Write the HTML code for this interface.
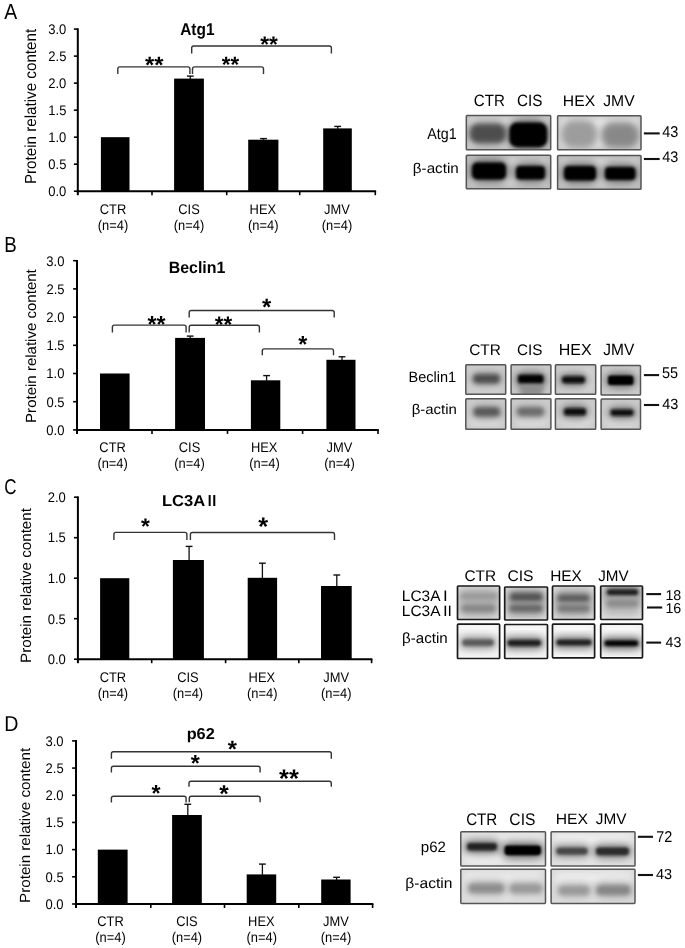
<!DOCTYPE html>
<html><head><meta charset="utf-8"><style>
html,body{margin:0;padding:0;background:#fff;}
body{width:685px;height:948px;overflow:hidden;}
svg{display:block;font-family:"Liberation Sans",sans-serif;text-rendering:geometricPrecision;-webkit-font-smoothing:antialiased;filter:blur(0.35px);}
</style></head><body>
<svg width="685" height="948" viewBox="0 0 685 948">
<defs>
<filter id="b05" x="-50%" y="-50%" width="200%" height="200%"><feGaussianBlur stdDeviation="0.5"/></filter>
<filter id="b1" x="-50%" y="-50%" width="200%" height="200%"><feGaussianBlur stdDeviation="1.0"/></filter>
<filter id="b15" x="-50%" y="-50%" width="200%" height="200%"><feGaussianBlur stdDeviation="1.5"/></filter>
<filter id="b2" x="-50%" y="-50%" width="200%" height="200%"><feGaussianBlur stdDeviation="2.0"/></filter>
<filter id="b25" x="-50%" y="-50%" width="200%" height="200%"><feGaussianBlur stdDeviation="2.5"/></filter>
<filter id="b3" x="-50%" y="-50%" width="200%" height="200%"><feGaussianBlur stdDeviation="3.0"/></filter>
<filter id="b4" x="-50%" y="-50%" width="200%" height="200%"><feGaussianBlur stdDeviation="4.0"/></filter>
<filter id="b5" x="-50%" y="-50%" width="200%" height="200%"><feGaussianBlur stdDeviation="5.0"/></filter>
<clipPath id="c1"><rect x="466.30" y="115.60" width="84.40" height="34.20"/></clipPath>
<clipPath id="c2"><rect x="557.60" y="115.80" width="83.40" height="34.00"/></clipPath>
<clipPath id="c3"><rect x="466.30" y="155.30" width="84.40" height="33.50"/></clipPath>
<clipPath id="c4"><rect x="557.60" y="155.50" width="83.40" height="33.80"/></clipPath>
<clipPath id="c5"><rect x="465.80" y="364.80" width="39.90" height="29.40"/></clipPath>
<clipPath id="c6"><rect x="511.10" y="364.80" width="39.80" height="29.40"/></clipPath>
<clipPath id="c7"><rect x="555.40" y="364.80" width="40.30" height="29.40"/></clipPath>
<clipPath id="c8"><rect x="601.10" y="365.40" width="39.40" height="29.60"/></clipPath>
<clipPath id="c9"><rect x="465.80" y="398.70" width="39.90" height="30.50"/></clipPath>
<clipPath id="c10"><rect x="511.10" y="398.70" width="39.80" height="30.50"/></clipPath>
<clipPath id="c11"><rect x="555.40" y="398.70" width="40.30" height="30.50"/></clipPath>
<clipPath id="c12"><rect x="601.10" y="399.10" width="39.40" height="30.10"/></clipPath>
<clipPath id="c13"><rect x="457.50" y="586.00" width="42.10" height="33.50"/></clipPath>
<clipPath id="c14"><rect x="504.70" y="587.00" width="42.80" height="33.00"/></clipPath>
<clipPath id="c15"><rect x="552.50" y="586.00" width="42.10" height="33.50"/></clipPath>
<clipPath id="c16"><rect x="600.70" y="586.00" width="41.80" height="33.50"/></clipPath>
<clipPath id="c17"><rect x="457.50" y="624.20" width="42.10" height="34.30"/></clipPath>
<clipPath id="c18"><rect x="504.70" y="624.50" width="42.80" height="34.00"/></clipPath>
<clipPath id="c19"><rect x="552.50" y="624.20" width="42.10" height="33.60"/></clipPath>
<clipPath id="c20"><rect x="600.70" y="624.20" width="41.80" height="33.60"/></clipPath>
<clipPath id="c21"><rect x="460.80" y="831.70" width="84.70" height="34.30"/></clipPath>
<clipPath id="c22"><rect x="551.10" y="831.70" width="83.90" height="34.30"/></clipPath>
<clipPath id="c23"><rect x="460.80" y="869.20" width="84.70" height="34.20"/></clipPath>
<clipPath id="c24"><rect x="551.10" y="869.20" width="83.90" height="34.20"/></clipPath>
</defs>
<rect width="685" height="948" fill="#fff"/>
<rect x="100.90" y="137.17" width="28.60" height="54.03" fill="#000" />
<rect x="174.10" y="78.60" width="29.80" height="112.60" fill="#000" />
<line x1="190.30" y1="79.10" x2="190.30" y2="76.10" stroke="#111" stroke-width="1.3"/>
<line x1="186.90" y1="76.10" x2="193.70" y2="76.10" stroke="#111" stroke-width="1.4"/>
<rect x="248.20" y="139.70" width="30.20" height="51.50" fill="#000" />
<line x1="263.50" y1="140.20" x2="263.50" y2="138.60" stroke="#111" stroke-width="1.3"/>
<line x1="260.10" y1="138.60" x2="266.90" y2="138.60" stroke="#111" stroke-width="1.4"/>
<rect x="323.20" y="128.40" width="28.60" height="62.80" fill="#000" />
<line x1="337.70" y1="128.90" x2="337.70" y2="126.40" stroke="#111" stroke-width="1.3"/>
<line x1="334.30" y1="126.40" x2="341.10" y2="126.40" stroke="#111" stroke-width="1.4"/>
<line x1="77.80" y1="28.30" x2="77.80" y2="195.20" stroke="#000" stroke-width="2.0"/>
<line x1="76.80" y1="191.20" x2="376.10" y2="191.20" stroke="#000" stroke-width="2.0"/>
<line x1="73.90" y1="191.20" x2="77.80" y2="191.20" stroke="#000" stroke-width="1.6"/>
<line x1="73.90" y1="164.18" x2="77.80" y2="164.18" stroke="#000" stroke-width="1.6"/>
<line x1="73.90" y1="137.17" x2="77.80" y2="137.17" stroke="#000" stroke-width="1.6"/>
<line x1="73.90" y1="110.15" x2="77.80" y2="110.15" stroke="#000" stroke-width="1.6"/>
<line x1="73.90" y1="83.13" x2="77.80" y2="83.13" stroke="#000" stroke-width="1.6"/>
<line x1="73.90" y1="56.12" x2="77.80" y2="56.12" stroke="#000" stroke-width="1.6"/>
<line x1="73.90" y1="29.10" x2="77.80" y2="29.10" stroke="#000" stroke-width="1.6"/>
<line x1="152.00" y1="191.20" x2="152.00" y2="195.20" stroke="#000" stroke-width="1.6"/>
<line x1="226.70" y1="191.20" x2="226.70" y2="195.20" stroke="#000" stroke-width="1.6"/>
<line x1="299.70" y1="191.20" x2="299.70" y2="195.20" stroke="#000" stroke-width="1.6"/>
<line x1="375.30" y1="191.20" x2="375.30" y2="195.20" stroke="#000" stroke-width="1.6"/>
<text transform="translate(48.26,196.03) scale(0.930,1)" font-size="14.00" fill="#000000">0.0</text>
<text transform="translate(48.32,169.01) scale(0.930,1)" font-size="14.00" fill="#000000">0.5</text>
<text transform="translate(48.26,142.00) scale(0.930,1)" font-size="14.00" fill="#000000">1.0</text>
<text transform="translate(48.32,114.91) scale(0.930,1)" font-size="14.00" fill="#000000">1.5</text>
<text transform="translate(48.26,87.96) scale(0.930,1)" font-size="14.00" fill="#000000">2.0</text>
<text transform="translate(48.32,60.95) scale(0.930,1)" font-size="14.00" fill="#000000">2.5</text>
<text transform="translate(48.26,33.93) scale(0.930,1)" font-size="14.00" fill="#000000">3.0</text>
<text transform="translate(99.73,214.20) scale(0.920,1)" font-size="14.00" fill="#000000">CTR</text>
<text transform="translate(97.80,229.50) scale(0.920,1)" font-size="14.00" fill="#000000">(n=4)</text>
<text transform="translate(178.25,214.20) scale(0.920,1)" font-size="14.00" fill="#000000">CIS</text>
<text transform="translate(173.80,229.50) scale(0.920,1)" font-size="14.00" fill="#000000">(n=4)</text>
<text transform="translate(249.58,214.20) scale(0.920,1)" font-size="14.00" fill="#000000">HEX</text>
<text transform="translate(248.00,229.50) scale(0.920,1)" font-size="14.00" fill="#000000">(n=4)</text>
<text transform="translate(324.06,214.20) scale(0.920,1)" font-size="14.00" fill="#000000">JMV</text>
<text transform="translate(321.80,229.50) scale(0.920,1)" font-size="14.00" fill="#000000">(n=4)</text>
<rect x="100.00" y="373.50" width="29.60" height="56.40" fill="#000" />
<rect x="175.10" y="337.90" width="29.90" height="92.00" fill="#000" />
<line x1="190.20" y1="338.40" x2="190.20" y2="336.10" stroke="#111" stroke-width="1.3"/>
<line x1="186.80" y1="336.10" x2="193.60" y2="336.10" stroke="#111" stroke-width="1.4"/>
<rect x="250.90" y="380.30" width="29.40" height="49.60" fill="#000" />
<line x1="266.60" y1="380.80" x2="266.60" y2="375.60" stroke="#111" stroke-width="1.3"/>
<line x1="263.20" y1="375.60" x2="270.00" y2="375.60" stroke="#111" stroke-width="1.4"/>
<rect x="326.40" y="359.80" width="29.10" height="70.10" fill="#000" />
<line x1="342.00" y1="360.30" x2="342.00" y2="356.80" stroke="#111" stroke-width="1.3"/>
<line x1="338.60" y1="356.80" x2="345.40" y2="356.80" stroke="#111" stroke-width="1.4"/>
<line x1="77.00" y1="259.90" x2="77.00" y2="433.90" stroke="#000" stroke-width="2.0"/>
<line x1="76.00" y1="429.90" x2="378.80" y2="429.90" stroke="#000" stroke-width="2.0"/>
<line x1="73.10" y1="429.90" x2="77.00" y2="429.90" stroke="#000" stroke-width="1.6"/>
<line x1="73.10" y1="401.70" x2="77.00" y2="401.70" stroke="#000" stroke-width="1.6"/>
<line x1="73.10" y1="373.50" x2="77.00" y2="373.50" stroke="#000" stroke-width="1.6"/>
<line x1="73.10" y1="345.30" x2="77.00" y2="345.30" stroke="#000" stroke-width="1.6"/>
<line x1="73.10" y1="317.10" x2="77.00" y2="317.10" stroke="#000" stroke-width="1.6"/>
<line x1="73.10" y1="288.90" x2="77.00" y2="288.90" stroke="#000" stroke-width="1.6"/>
<line x1="73.10" y1="260.70" x2="77.00" y2="260.70" stroke="#000" stroke-width="1.6"/>
<line x1="152.00" y1="429.90" x2="152.00" y2="433.90" stroke="#000" stroke-width="1.6"/>
<line x1="227.50" y1="429.90" x2="227.50" y2="433.90" stroke="#000" stroke-width="1.6"/>
<line x1="302.60" y1="429.90" x2="302.60" y2="433.90" stroke="#000" stroke-width="1.6"/>
<line x1="378.00" y1="429.90" x2="378.00" y2="433.90" stroke="#000" stroke-width="1.6"/>
<text transform="translate(46.36,434.73) scale(0.930,1)" font-size="14.00" fill="#000000">0.0</text>
<text transform="translate(46.42,406.53) scale(0.930,1)" font-size="14.00" fill="#000000">0.5</text>
<text transform="translate(46.36,378.33) scale(0.930,1)" font-size="14.00" fill="#000000">1.0</text>
<text transform="translate(46.42,350.06) scale(0.930,1)" font-size="14.00" fill="#000000">1.5</text>
<text transform="translate(46.36,321.93) scale(0.930,1)" font-size="14.00" fill="#000000">2.0</text>
<text transform="translate(46.42,293.73) scale(0.930,1)" font-size="14.00" fill="#000000">2.5</text>
<text transform="translate(46.36,265.53) scale(0.930,1)" font-size="14.00" fill="#000000">3.0</text>
<text transform="translate(99.33,451.60) scale(0.920,1)" font-size="14.00" fill="#000000">CTR</text>
<text transform="translate(97.40,467.60) scale(0.920,1)" font-size="14.00" fill="#000000">(n=4)</text>
<text transform="translate(178.75,451.60) scale(0.920,1)" font-size="14.00" fill="#000000">CIS</text>
<text transform="translate(174.30,467.60) scale(0.920,1)" font-size="14.00" fill="#000000">(n=4)</text>
<text transform="translate(250.88,451.60) scale(0.920,1)" font-size="14.00" fill="#000000">HEX</text>
<text transform="translate(249.30,467.60) scale(0.920,1)" font-size="14.00" fill="#000000">(n=4)</text>
<text transform="translate(326.56,451.60) scale(0.920,1)" font-size="14.00" fill="#000000">JMV</text>
<text transform="translate(324.30,467.60) scale(0.920,1)" font-size="14.00" fill="#000000">(n=4)</text>
<rect x="100.10" y="578.20" width="29.20" height="81.00" fill="#000" />
<rect x="172.90" y="560.00" width="31.00" height="99.20" fill="#000" />
<line x1="189.10" y1="560.50" x2="189.10" y2="546.40" stroke="#111" stroke-width="1.3"/>
<line x1="185.70" y1="546.40" x2="192.50" y2="546.40" stroke="#111" stroke-width="1.4"/>
<rect x="247.70" y="577.80" width="29.40" height="81.40" fill="#000" />
<line x1="262.40" y1="578.30" x2="262.40" y2="563.20" stroke="#111" stroke-width="1.3"/>
<line x1="259.00" y1="563.20" x2="265.80" y2="563.20" stroke="#111" stroke-width="1.4"/>
<rect x="321.00" y="586.00" width="30.70" height="73.20" fill="#000" />
<line x1="336.80" y1="586.50" x2="336.80" y2="575.00" stroke="#111" stroke-width="1.3"/>
<line x1="333.40" y1="575.00" x2="340.20" y2="575.00" stroke="#111" stroke-width="1.4"/>
<line x1="77.90" y1="496.40" x2="77.90" y2="663.20" stroke="#000" stroke-width="2.0"/>
<line x1="76.90" y1="659.20" x2="372.40" y2="659.20" stroke="#000" stroke-width="2.0"/>
<line x1="74.00" y1="659.20" x2="77.90" y2="659.20" stroke="#000" stroke-width="1.6"/>
<line x1="74.00" y1="618.70" x2="77.90" y2="618.70" stroke="#000" stroke-width="1.6"/>
<line x1="74.00" y1="578.20" x2="77.90" y2="578.20" stroke="#000" stroke-width="1.6"/>
<line x1="74.00" y1="537.70" x2="77.90" y2="537.70" stroke="#000" stroke-width="1.6"/>
<line x1="74.00" y1="497.20" x2="77.90" y2="497.20" stroke="#000" stroke-width="1.6"/>
<line x1="151.70" y1="659.20" x2="151.70" y2="663.20" stroke="#000" stroke-width="1.6"/>
<line x1="225.60" y1="659.20" x2="225.60" y2="663.20" stroke="#000" stroke-width="1.6"/>
<line x1="298.80" y1="659.20" x2="298.80" y2="663.20" stroke="#000" stroke-width="1.6"/>
<line x1="371.60" y1="659.20" x2="371.60" y2="663.20" stroke="#000" stroke-width="1.6"/>
<text transform="translate(47.66,664.03) scale(0.930,1)" font-size="14.00" fill="#000000">0.0</text>
<text transform="translate(47.72,623.53) scale(0.930,1)" font-size="14.00" fill="#000000">0.5</text>
<text transform="translate(47.66,583.03) scale(0.930,1)" font-size="14.00" fill="#000000">1.0</text>
<text transform="translate(47.72,542.46) scale(0.930,1)" font-size="14.00" fill="#000000">1.5</text>
<text transform="translate(47.66,502.03) scale(0.930,1)" font-size="14.00" fill="#000000">2.0</text>
<text transform="translate(99.63,681.60) scale(0.920,1)" font-size="14.00" fill="#000000">CTR</text>
<text transform="translate(97.70,697.60) scale(0.920,1)" font-size="14.00" fill="#000000">(n=4)</text>
<text transform="translate(177.15,681.60) scale(0.920,1)" font-size="14.00" fill="#000000">CIS</text>
<text transform="translate(172.70,697.60) scale(0.920,1)" font-size="14.00" fill="#000000">(n=4)</text>
<text transform="translate(248.58,681.60) scale(0.920,1)" font-size="14.00" fill="#000000">HEX</text>
<text transform="translate(247.00,697.60) scale(0.920,1)" font-size="14.00" fill="#000000">(n=4)</text>
<text transform="translate(323.26,681.60) scale(0.920,1)" font-size="14.00" fill="#000000">JMV</text>
<text transform="translate(321.00,697.60) scale(0.920,1)" font-size="14.00" fill="#000000">(n=4)</text>
<rect x="97.80" y="849.63" width="29.80" height="54.37" fill="#000" />
<rect x="172.10" y="815.00" width="29.70" height="89.00" fill="#000" />
<line x1="187.80" y1="815.50" x2="187.80" y2="804.30" stroke="#111" stroke-width="1.3"/>
<line x1="184.40" y1="804.30" x2="191.20" y2="804.30" stroke="#111" stroke-width="1.4"/>
<rect x="246.70" y="874.40" width="29.50" height="29.60" fill="#000" />
<line x1="262.40" y1="874.90" x2="262.40" y2="864.10" stroke="#111" stroke-width="1.3"/>
<line x1="259.00" y1="864.10" x2="265.80" y2="864.10" stroke="#111" stroke-width="1.4"/>
<rect x="321.20" y="879.50" width="29.40" height="24.50" fill="#000" />
<line x1="336.60" y1="880.00" x2="336.60" y2="877.30" stroke="#111" stroke-width="1.3"/>
<line x1="333.20" y1="877.30" x2="340.00" y2="877.30" stroke="#111" stroke-width="1.4"/>
<line x1="76.00" y1="740.10" x2="76.00" y2="908.00" stroke="#000" stroke-width="2.0"/>
<line x1="75.00" y1="904.00" x2="373.40" y2="904.00" stroke="#000" stroke-width="2.0"/>
<line x1="72.10" y1="904.00" x2="76.00" y2="904.00" stroke="#000" stroke-width="1.6"/>
<line x1="72.10" y1="876.82" x2="76.00" y2="876.82" stroke="#000" stroke-width="1.6"/>
<line x1="72.10" y1="849.63" x2="76.00" y2="849.63" stroke="#000" stroke-width="1.6"/>
<line x1="72.10" y1="822.45" x2="76.00" y2="822.45" stroke="#000" stroke-width="1.6"/>
<line x1="72.10" y1="795.27" x2="76.00" y2="795.27" stroke="#000" stroke-width="1.6"/>
<line x1="72.10" y1="768.08" x2="76.00" y2="768.08" stroke="#000" stroke-width="1.6"/>
<line x1="72.10" y1="740.90" x2="76.00" y2="740.90" stroke="#000" stroke-width="1.6"/>
<line x1="150.80" y1="904.00" x2="150.80" y2="908.00" stroke="#000" stroke-width="1.6"/>
<line x1="224.50" y1="904.00" x2="224.50" y2="908.00" stroke="#000" stroke-width="1.6"/>
<line x1="298.80" y1="904.00" x2="298.80" y2="908.00" stroke="#000" stroke-width="1.6"/>
<line x1="372.60" y1="904.00" x2="372.60" y2="908.00" stroke="#000" stroke-width="1.6"/>
<text transform="translate(45.46,908.83) scale(0.930,1)" font-size="14.00" fill="#000000">0.0</text>
<text transform="translate(45.52,881.65) scale(0.930,1)" font-size="14.00" fill="#000000">0.5</text>
<text transform="translate(45.46,854.46) scale(0.930,1)" font-size="14.00" fill="#000000">1.0</text>
<text transform="translate(45.52,827.21) scale(0.930,1)" font-size="14.00" fill="#000000">1.5</text>
<text transform="translate(45.46,800.10) scale(0.930,1)" font-size="14.00" fill="#000000">2.0</text>
<text transform="translate(45.52,772.91) scale(0.930,1)" font-size="14.00" fill="#000000">2.5</text>
<text transform="translate(45.46,745.73) scale(0.930,1)" font-size="14.00" fill="#000000">3.0</text>
<text transform="translate(97.23,925.60) scale(0.920,1)" font-size="14.00" fill="#000000">CTR</text>
<text transform="translate(95.30,941.60) scale(0.920,1)" font-size="14.00" fill="#000000">(n=4)</text>
<text transform="translate(176.15,925.60) scale(0.920,1)" font-size="14.00" fill="#000000">CIS</text>
<text transform="translate(171.70,941.60) scale(0.920,1)" font-size="14.00" fill="#000000">(n=4)</text>
<text transform="translate(248.08,925.60) scale(0.920,1)" font-size="14.00" fill="#000000">HEX</text>
<text transform="translate(246.50,941.60) scale(0.920,1)" font-size="14.00" fill="#000000">(n=4)</text>
<text transform="translate(323.06,925.60) scale(0.920,1)" font-size="14.00" fill="#000000">JMV</text>
<text transform="translate(320.80,941.60) scale(0.920,1)" font-size="14.00" fill="#000000">(n=4)</text>
<text transform="translate(4.30,18.50) scale(0.892,1)" font-size="21.74" fill="#000000">A</text>
<text transform="translate(4.30,251.90) scale(0.854,1)" font-size="21.88" fill="#000000">B</text>
<text transform="translate(4.15,494.39) scale(0.794,1)" font-size="21.41" fill="#000000">C</text>
<text transform="translate(4.23,731.00) scale(0.911,1)" font-size="21.59" fill="#000000">D</text>
<text transform="translate(35.54,184.12) rotate(-90) scale(0.947,1)" font-size="16.05" fill="#000000">Protein relative content</text>
<text transform="translate(35.95,422.90) rotate(-90) scale(1.023,1)" font-size="14.69" fill="#000000">Protein relative content</text>
<text transform="translate(30.85,662.91) rotate(-90) scale(1.011,1)" font-size="14.97" fill="#000000">Protein relative content</text>
<text transform="translate(29.95,902.91) rotate(-90) scale(1.032,1)" font-size="14.69" fill="#000000">Protein relative content</text>
<text transform="translate(180.21,35.20) scale(0.903,1)" font-size="17.10" font-weight="bold" fill="#000000">Atg1</text>
<text transform="translate(168.66,272.64) scale(0.971,1)" font-size="16.46" font-weight="bold" fill="#000000">Beclin1</text>
<text transform="translate(161.92,506.44) scale(1.052,1)" font-size="15.77" font-weight="bold" fill="#000000">LC3A</text>
<text transform="translate(207.80,506.40) scale(0.865,1)" font-size="15.94" font-weight="bold" fill="#000000">I</text>
<text transform="translate(212.16,506.40) scale(0.908,1)" font-size="15.94" font-weight="bold" fill="#000000">I</text>
<text transform="translate(186.64,738.60) scale(1.027,1)" font-size="15.86" font-weight="bold" fill="#000000">p62</text>
<path d="M117.80,74.00 L117.80,68.90 Q117.80,66.90 119.80,66.90 L187.90,66.90 Q189.90,66.90 189.90,68.90 L189.90,74.00" fill="none" stroke="#333333" stroke-width="1.4"/>
<text transform="translate(145.12,72.61) scale(1.000,1)" font-size="23.78" font-weight="bold" fill="#000000">**</text>
<path d="M192.50,74.00 L192.50,68.90 Q192.50,66.90 194.50,66.90 L261.50,66.90 Q263.50,66.90 263.50,68.90 L263.50,74.00" fill="none" stroke="#333333" stroke-width="1.4"/>
<text transform="translate(221.86,72.29) scale(1.000,1)" font-size="22.16" font-weight="bold" fill="#000000">**</text>
<path d="M191.70,53.50 L191.70,48.00 Q191.70,46.00 193.70,46.00 L329.40,46.00 Q331.40,46.00 331.40,48.00 L331.40,53.50" fill="none" stroke="#333333" stroke-width="1.4"/>
<text transform="translate(260.15,52.26) scale(1.000,1)" font-size="22.70" font-weight="bold" fill="#000000">**</text>
<path d="M112.40,332.40 L112.40,327.10 Q112.40,325.10 114.40,325.10 L184.10,325.10 Q186.10,325.10 186.10,327.10 L186.10,332.40" fill="none" stroke="#333333" stroke-width="1.4"/>
<text transform="translate(147.54,332.44) scale(1.000,1)" font-size="23.24" font-weight="bold" fill="#000000">**</text>
<path d="M189.20,332.50 L189.20,327.20 Q189.20,325.20 191.20,325.20 L257.40,325.20 Q259.40,325.20 259.40,327.20 L259.40,332.50" fill="none" stroke="#333333" stroke-width="1.4"/>
<text transform="translate(214.75,332.38) scale(1.000,1)" font-size="22.43" font-weight="bold" fill="#000000">**</text>
<path d="M189.20,317.60 L189.20,312.50 Q189.20,310.50 191.20,310.50 L332.20,310.50 Q334.20,310.50 334.20,312.50 L334.20,317.60" fill="none" stroke="#333333" stroke-width="1.4"/>
<text transform="translate(261.96,314.71) scale(1.000,1)" font-size="23.78" font-weight="bold" fill="#000000">*</text>
<path d="M262.30,355.30 L262.30,350.90 Q262.30,348.90 264.30,348.90 L331.50,348.90 Q333.50,348.90 333.50,350.90 L333.50,355.30" fill="none" stroke="#333333" stroke-width="1.4"/>
<text transform="translate(298.22,351.64) scale(1.000,1)" font-size="23.24" font-weight="bold" fill="#000000">*</text>
<path d="M113.90,540.00 L113.90,534.40 Q113.90,532.40 115.90,532.40 L184.90,532.40 Q186.90,532.40 186.90,534.40 L186.90,540.00" fill="none" stroke="#333333" stroke-width="1.4"/>
<text transform="translate(141.07,534.46) scale(1.000,1)" font-size="22.70" font-weight="bold" fill="#000000">*</text>
<path d="M190.40,540.00 L190.40,534.50 Q190.40,532.50 192.40,532.50 L332.50,532.50 Q334.50,532.50 334.50,534.50 L334.50,540.00" fill="none" stroke="#333333" stroke-width="1.4"/>
<text transform="translate(258.25,535.33) scale(1.000,1)" font-size="25.41" font-weight="bold" fill="#000000">*</text>
<path d="M111.40,758.70 L111.40,753.70 Q111.40,751.70 113.40,751.70 L329.30,751.70 Q331.30,751.70 331.30,753.70 L331.30,758.70" fill="none" stroke="#333333" stroke-width="1.4"/>
<text transform="translate(227.71,757.32) scale(1.000,1)" font-size="23.51" font-weight="bold" fill="#000000">*</text>
<path d="M111.40,772.60 L111.40,768.30 Q111.40,766.30 113.40,766.30 L258.10,766.30 Q260.10,766.30 260.10,768.30 L260.10,772.60" fill="none" stroke="#333333" stroke-width="1.4"/>
<text transform="translate(190.77,770.54) scale(1.000,1)" font-size="23.24" font-weight="bold" fill="#000000">*</text>
<path d="M189.00,786.70 L189.00,783.30 Q189.00,781.30 191.00,781.30 L329.30,781.30 Q331.30,781.30 331.30,783.30 L331.30,786.70" fill="none" stroke="#333333" stroke-width="1.4"/>
<text transform="translate(279.09,787.13) scale(1.000,1)" font-size="25.41" font-weight="bold" fill="#000000">**</text>
<path d="M111.40,802.50 L111.40,798.20 Q111.40,796.20 113.40,796.20 L184.10,796.20 Q186.10,796.20 186.10,798.20 L186.10,802.50" fill="none" stroke="#333333" stroke-width="1.4"/>
<text transform="translate(151.47,801.24) scale(1.000,1)" font-size="23.24" font-weight="bold" fill="#000000">*</text>
<path d="M189.30,802.30 L189.30,798.20 Q189.30,796.20 191.30,796.20 L258.10,796.20 Q260.10,796.20 260.10,798.20 L260.10,802.30" fill="none" stroke="#333333" stroke-width="1.4"/>
<text transform="translate(219.16,801.58) scale(1.000,1)" font-size="24.32" font-weight="bold" fill="#000000">*</text>
<text transform="translate(473.84,106.44) scale(0.927,1)" font-size="16.34" fill="#000000">CTR</text>
<text transform="translate(517.04,106.44) scale(0.932,1)" font-size="16.34" fill="#000000">CIS</text>
<text transform="translate(562.84,106.20) scale(1.032,1)" font-size="15.22" fill="#000000">HEX</text>
<text transform="translate(603.26,106.44) scale(1.009,1)" font-size="15.57" fill="#000000">JMV</text>
<text transform="translate(427.20,138.60) scale(0.904,1)" font-size="15.80" fill="#000000">Atg1</text>
<text transform="translate(412.84,172.60) scale(1.069,1)" font-size="14.21" fill="#000000">β-actin</text>
<g clip-path="url(#c1)">
<rect x="466.30" y="115.60" width="84.40" height="34.20" fill="#c0c0c0"/>
<rect x="469.30" y="118.60" width="78.40" height="28.20" fill="#f0f0f0" filter="url(#b3)"/>
<rect x="467.00" y="121.00" width="41.50" height="25.00" rx="12.50" fill="#8b8b8b" filter="url(#b4)"/>
<rect x="506.00" y="119.00" width="44.50" height="31.50" rx="15.75" fill="#646464" filter="url(#b4)"/>
<rect x="470.50" y="124.50" width="34.50" height="18.00" rx="7.20" ry="7.20" fill="#4e4e4e" filter="url(#b25)"/>
<rect x="509.50" y="122.50" width="37.50" height="24.50" rx="7.35" ry="7.35" fill="#000" filter="url(#b15)"/>
</g>
<rect x="466.30" y="115.60" width="84.40" height="34.20" rx="0.8" fill="none" stroke="#555555" stroke-width="1.5"/>
<g clip-path="url(#c2)">
<rect x="557.60" y="115.80" width="83.40" height="34.00" fill="#c8c8c8"/>
<rect x="560.60" y="118.80" width="77.40" height="28.00" fill="#f0f0f0" filter="url(#b3)"/>
<rect x="560.00" y="119.00" width="38.50" height="30.50" rx="15.25" fill="#b2b2b2" filter="url(#b4)"/>
<rect x="600.00" y="121.00" width="40.50" height="28.50" rx="14.25" fill="#a8a8a8" filter="url(#b4)"/>
<rect x="563.50" y="122.50" width="31.50" height="23.50" rx="9.40" ry="9.40" fill="#9c9c9c" filter="url(#b3)"/>
<rect x="603.50" y="124.50" width="33.50" height="21.50" rx="8.60" ry="8.60" fill="#888888" filter="url(#b3)"/>
</g>
<rect x="557.60" y="115.80" width="83.40" height="34.00" rx="0.8" fill="none" stroke="#555555" stroke-width="1.5"/>
<g clip-path="url(#c3)">
<rect x="466.30" y="155.30" width="84.40" height="33.50" fill="#b8b8b8"/>
<rect x="469.30" y="158.30" width="78.40" height="27.50" fill="#e0e0e0" filter="url(#b3)"/>
<rect x="468.50" y="159.00" width="41.00" height="24.00" rx="12.00" fill="#646464" filter="url(#b4)"/>
<rect x="512.50" y="162.50" width="36.00" height="20.50" rx="10.25" fill="#646464" filter="url(#b4)"/>
<rect x="472.00" y="162.50" width="34.00" height="17.00" rx="5.10" ry="5.10" fill="#000" filter="url(#b15)"/>
<rect x="516.00" y="166.00" width="29.00" height="13.50" rx="4.05" ry="4.05" fill="#000" filter="url(#b15)"/>
</g>
<rect x="466.30" y="155.30" width="84.40" height="33.50" rx="0.8" fill="none" stroke="#555555" stroke-width="1.5"/>
<g clip-path="url(#c4)">
<rect x="557.60" y="155.50" width="83.40" height="33.80" fill="#b8b8b8"/>
<rect x="560.60" y="158.50" width="77.40" height="27.80" fill="#e0e0e0" filter="url(#b3)"/>
<rect x="560.50" y="162.50" width="39.00" height="21.50" rx="10.75" fill="#646464" filter="url(#b4)"/>
<rect x="601.50" y="163.50" width="37.50" height="20.00" rx="10.00" fill="#646464" filter="url(#b4)"/>
<rect x="564.00" y="166.00" width="32.00" height="14.50" rx="4.35" ry="4.35" fill="#000" filter="url(#b15)"/>
<rect x="605.00" y="167.00" width="30.50" height="13.00" rx="3.90" ry="3.90" fill="#000" filter="url(#b15)"/>
</g>
<rect x="557.60" y="155.50" width="83.40" height="33.80" rx="0.8" fill="none" stroke="#555555" stroke-width="1.5"/>
<line x1="643.90" y1="133.40" x2="659.70" y2="133.40" stroke="#111" stroke-width="2.1"/>
<text transform="translate(662.31,137.44) scale(0.926,1)" font-size="15.63" fill="#000000">43</text>
<line x1="643.90" y1="159.00" x2="659.70" y2="159.00" stroke="#111" stroke-width="2.1"/>
<text transform="translate(662.31,162.25) scale(0.943,1)" font-size="15.35" fill="#000000">43</text>
<text transform="translate(469.13,355.45) scale(1.004,1)" font-size="15.35" fill="#000000">CTR</text>
<text transform="translate(517.04,355.45) scale(0.992,1)" font-size="15.35" fill="#000000">CIS</text>
<text transform="translate(558.72,355.20) scale(1.004,1)" font-size="15.94" fill="#000000">HEX</text>
<text transform="translate(603.27,355.44) scale(0.952,1)" font-size="16.29" fill="#000000">JMV</text>
<text transform="translate(408.54,382.25) scale(0.970,1)" font-size="14.97" fill="#000000">Beclin1</text>
<text transform="translate(411.65,414.00) scale(1.064,1)" font-size="14.07" fill="#000000">β-actin</text>
<g clip-path="url(#c5)">
<rect x="465.80" y="364.80" width="39.90" height="29.40" fill="#c6c6c6"/>
<rect x="469.80" y="368.80" width="31.90" height="21.40" fill="#ededed" filter="url(#b4)"/>
<rect x="470.00" y="371.00" width="33.00" height="15.50" rx="7.75" fill="#8b8b8b" filter="url(#b4)"/>
<rect x="473.50" y="374.50" width="26.00" height="8.50" rx="3.40" ry="3.40" fill="#4e4e4e" filter="url(#b2)"/>
</g>
<rect x="465.80" y="364.80" width="39.90" height="29.40" rx="0.8" fill="none" stroke="#555555" stroke-width="1.5"/>
<g clip-path="url(#c6)">
<rect x="511.10" y="364.80" width="39.80" height="29.40" fill="#c6c6c6"/>
<rect x="515.10" y="368.80" width="31.80" height="21.40" fill="#ededed" filter="url(#b4)"/>
<rect x="517.50" y="376.50" width="28.00" height="23.00" rx="11.50" fill="#ababab" filter="url(#b4)"/>
<rect x="514.50" y="371.30" width="32.50" height="15.40" rx="7.70" fill="#646464" filter="url(#b4)"/>
<rect x="521.00" y="380.00" width="21.00" height="16.00" rx="2.40" ry="2.40" fill="#8e8e8e" filter="url(#b2)"/>
<rect x="518.00" y="374.80" width="25.50" height="8.40" rx="2.52" ry="2.52" fill="#000" filter="url(#b15)"/>
</g>
<rect x="511.10" y="364.80" width="39.80" height="29.40" rx="0.8" fill="none" stroke="#555555" stroke-width="1.5"/>
<g clip-path="url(#c7)">
<rect x="555.40" y="364.80" width="40.30" height="29.40" fill="#c6c6c6"/>
<rect x="559.40" y="368.80" width="32.30" height="21.40" fill="#ededed" filter="url(#b4)"/>
<rect x="558.50" y="372.80" width="30.00" height="14.00" rx="7.00" fill="#6c6c6c" filter="url(#b4)"/>
<rect x="562.00" y="376.30" width="23.00" height="7.00" rx="2.80" ry="2.80" fill="#111" filter="url(#b15)"/>
</g>
<rect x="555.40" y="364.80" width="40.30" height="29.40" rx="0.8" fill="none" stroke="#555555" stroke-width="1.5"/>
<g clip-path="url(#c8)">
<rect x="601.10" y="365.40" width="39.40" height="29.60" fill="#c6c6c6"/>
<rect x="605.10" y="369.40" width="31.40" height="21.60" fill="#ededed" filter="url(#b4)"/>
<rect x="604.50" y="372.10" width="32.50" height="16.50" rx="8.25" fill="#646464" filter="url(#b4)"/>
<rect x="608.00" y="375.60" width="25.50" height="9.50" rx="2.85" ry="2.85" fill="#000" filter="url(#b1)"/>
</g>
<rect x="601.10" y="365.40" width="39.40" height="29.60" rx="0.8" fill="none" stroke="#555555" stroke-width="1.5"/>
<g clip-path="url(#c9)">
<rect x="465.80" y="398.70" width="39.90" height="30.50" fill="#c6c6c6"/>
<rect x="469.80" y="402.70" width="31.90" height="22.50" fill="#ededed" filter="url(#b4)"/>
<rect x="470.50" y="404.30" width="32.50" height="15.20" rx="7.60" fill="#909090" filter="url(#b4)"/>
<rect x="474.00" y="407.80" width="25.50" height="8.20" rx="3.28" ry="3.28" fill="#585858" filter="url(#b2)"/>
</g>
<rect x="465.80" y="398.70" width="39.90" height="30.50" rx="0.8" fill="none" stroke="#555555" stroke-width="1.5"/>
<g clip-path="url(#c10)">
<rect x="511.10" y="398.70" width="39.80" height="30.50" fill="#c6c6c6"/>
<rect x="515.10" y="402.70" width="31.80" height="22.50" fill="#ededed" filter="url(#b4)"/>
<rect x="514.00" y="404.30" width="33.00" height="14.80" rx="7.40" fill="#999999" filter="url(#b4)"/>
<rect x="517.50" y="407.80" width="26.00" height="7.80" rx="3.12" ry="3.12" fill="#6a6a6a" filter="url(#b2)"/>
</g>
<rect x="511.10" y="398.70" width="39.80" height="30.50" rx="0.8" fill="none" stroke="#555555" stroke-width="1.5"/>
<g clip-path="url(#c11)">
<rect x="555.40" y="398.70" width="40.30" height="30.50" fill="#c6c6c6"/>
<rect x="559.40" y="402.70" width="32.30" height="22.50" fill="#ededed" filter="url(#b4)"/>
<rect x="560.50" y="404.70" width="29.00" height="14.10" rx="7.05" fill="#696969" filter="url(#b4)"/>
<rect x="564.00" y="408.20" width="22.00" height="7.10" rx="2.84" ry="2.84" fill="#0a0a0a" filter="url(#b15)"/>
</g>
<rect x="555.40" y="398.70" width="40.30" height="30.50" rx="0.8" fill="none" stroke="#555555" stroke-width="1.5"/>
<g clip-path="url(#c12)">
<rect x="601.10" y="399.10" width="39.40" height="30.10" fill="#c6c6c6"/>
<rect x="605.10" y="403.10" width="31.40" height="22.10" fill="#ededed" filter="url(#b4)"/>
<rect x="607.00" y="406.10" width="30.00" height="13.20" rx="6.60" fill="#6c6c6c" filter="url(#b4)"/>
<rect x="610.50" y="409.60" width="23.00" height="6.20" rx="2.48" ry="2.48" fill="#111" filter="url(#b15)"/>
</g>
<rect x="601.10" y="399.10" width="39.40" height="30.10" rx="0.8" fill="none" stroke="#555555" stroke-width="1.5"/>
<line x1="643.90" y1="375.10" x2="659.10" y2="375.10" stroke="#111" stroke-width="2.1"/>
<text transform="translate(662.02,377.94) scale(0.929,1)" font-size="15.57" fill="#000000">55</text>
<line x1="643.90" y1="405.00" x2="659.10" y2="405.00" stroke="#111" stroke-width="2.1"/>
<text transform="translate(662.31,408.75) scale(0.979,1)" font-size="14.79" fill="#000000">43</text>
<text transform="translate(464.43,581.15) scale(1.007,1)" font-size="15.35" fill="#000000">CTR</text>
<text transform="translate(507.42,581.15) scale(1.021,1)" font-size="15.35" fill="#000000">CIS</text>
<text transform="translate(550.17,581.30) scale(1.012,1)" font-size="15.22" fill="#000000">HEX</text>
<text transform="translate(598.17,581.35) scale(0.995,1)" font-size="15.29" fill="#000000">JMV</text>
<text transform="translate(401.86,601.05) scale(1.016,1)" font-size="15.21" fill="#000000">LC3A</text>
<text transform="translate(443.08,601.00) scale(1.107,1)" font-size="15.22" fill="#000000">I</text>
<text transform="translate(401.86,616.45) scale(1.025,1)" font-size="15.07" fill="#000000">LC3A</text>
<text transform="translate(443.08,616.40) scale(1.117,1)" font-size="15.07" fill="#000000">I</text>
<text transform="translate(447.48,616.40) scale(1.048,1)" font-size="15.07" fill="#000000">I</text>
<text transform="translate(402.04,643.40) scale(1.024,1)" font-size="14.76" fill="#000000">β-actin</text>
<g clip-path="url(#c13)">
<rect x="457.50" y="586.00" width="42.10" height="33.50" fill="#dedede"/>
<rect x="461.50" y="590.00" width="34.10" height="25.50" fill="#c2c2c2" filter="url(#b4)"/>
<rect x="457.50" y="589.50" width="43.00" height="13.50" rx="6.75" fill="#b1b1b1" filter="url(#b4)"/>
<rect x="458.50" y="601.50" width="40.00" height="13.50" rx="6.75" fill="#a6a6a6" filter="url(#b4)"/>
<rect x="461.00" y="593.00" width="36.00" height="6.50" rx="2.60" ry="2.60" fill="#9a9a9a" filter="url(#b2)"/>
<rect x="462.00" y="605.00" width="33.00" height="6.50" rx="2.60" ry="2.60" fill="#858585" filter="url(#b2)"/>
</g>
<rect x="457.50" y="586.00" width="42.10" height="33.50" rx="0.8" fill="none" stroke="#1a1a1a" stroke-width="1.7"/>
<g clip-path="url(#c14)">
<rect x="504.70" y="587.00" width="42.80" height="33.00" fill="#dedede"/>
<rect x="508.70" y="591.00" width="34.80" height="25.00" fill="#c2c2c2" filter="url(#b4)"/>
<rect x="507.00" y="590.00" width="38.50" height="14.00" rx="7.00" fill="#8c8c8c" filter="url(#b4)"/>
<rect x="506.50" y="601.50" width="39.00" height="13.50" rx="6.75" fill="#969696" filter="url(#b4)"/>
<rect x="510.50" y="593.50" width="31.50" height="7.00" rx="2.80" ry="2.80" fill="#505050" filter="url(#b2)"/>
<rect x="510.00" y="605.00" width="32.00" height="6.50" rx="2.60" ry="2.60" fill="#656565" filter="url(#b2)"/>
</g>
<rect x="504.70" y="587.00" width="42.80" height="33.00" rx="0.8" fill="none" stroke="#1a1a1a" stroke-width="1.7"/>
<g clip-path="url(#c15)">
<rect x="552.50" y="586.00" width="42.10" height="33.50" fill="#dedede"/>
<rect x="556.50" y="590.00" width="34.10" height="25.50" fill="#c2c2c2" filter="url(#b4)"/>
<rect x="554.50" y="591.50" width="38.00" height="13.50" rx="6.75" fill="#919191" filter="url(#b4)"/>
<rect x="554.50" y="601.50" width="38.00" height="13.50" rx="6.75" fill="#9f9f9f" filter="url(#b4)"/>
<rect x="558.00" y="595.00" width="31.00" height="6.50" rx="2.60" ry="2.60" fill="#5a5a5a" filter="url(#b2)"/>
<rect x="558.00" y="605.00" width="31.00" height="6.50" rx="2.60" ry="2.60" fill="#777" filter="url(#b2)"/>
</g>
<rect x="552.50" y="586.00" width="42.10" height="33.50" rx="0.8" fill="none" stroke="#1a1a1a" stroke-width="1.7"/>
<g clip-path="url(#c16)">
<rect x="600.70" y="586.00" width="41.80" height="33.50" fill="#dedede"/>
<rect x="604.70" y="590.00" width="33.80" height="25.50" fill="#c2c2c2" filter="url(#b4)"/>
<rect x="603.50" y="586.00" width="38.00" height="12.50" rx="6.25" fill="#717171" filter="url(#b4)"/>
<rect x="603.50" y="596.50" width="38.00" height="13.50" rx="6.75" fill="#a9a9a9" filter="url(#b4)"/>
<rect x="607.00" y="589.50" width="31.00" height="5.50" rx="2.20" ry="2.20" fill="#1a1a1a" filter="url(#b15)"/>
<rect x="607.00" y="600.00" width="31.00" height="6.50" rx="2.60" ry="2.60" fill="#8a8a8a" filter="url(#b2)"/>
</g>
<rect x="600.70" y="586.00" width="41.80" height="33.50" rx="0.8" fill="none" stroke="#1a1a1a" stroke-width="1.7"/>
<g clip-path="url(#c17)">
<rect x="457.50" y="624.20" width="42.10" height="34.30" fill="#f2f2f2"/>
<rect x="461.50" y="628.20" width="34.10" height="26.30" fill="#fdfdfd" filter="url(#b4)"/>
<rect x="459.00" y="636.00" width="38.10" height="13.20" rx="6.60" fill="#919191" filter="url(#b4)"/>
<rect x="462.50" y="639.50" width="31.10" height="6.20" rx="2.48" ry="2.48" fill="#5a5a5a" filter="url(#b15)"/>
</g>
<rect x="457.50" y="624.20" width="42.10" height="34.30" rx="0.8" fill="none" stroke="#1a1a1a" stroke-width="1.7"/>
<g clip-path="url(#c18)">
<rect x="504.70" y="624.50" width="42.80" height="34.00" fill="#f2f2f2"/>
<rect x="508.70" y="628.50" width="34.80" height="26.00" fill="#fdfdfd" filter="url(#b4)"/>
<rect x="504.00" y="636.50" width="40.50" height="13.00" rx="6.50" fill="#717171" filter="url(#b4)"/>
<rect x="507.50" y="640.00" width="33.50" height="6.00" rx="2.40" ry="2.40" fill="#1a1a1a" filter="url(#b15)"/>
</g>
<rect x="504.70" y="624.50" width="42.80" height="34.00" rx="0.8" fill="none" stroke="#1a1a1a" stroke-width="1.7"/>
<g clip-path="url(#c19)">
<rect x="552.50" y="624.20" width="42.10" height="33.60" fill="#f2f2f2"/>
<rect x="556.50" y="628.20" width="34.10" height="25.60" fill="#fdfdfd" filter="url(#b4)"/>
<rect x="553.00" y="636.30" width="42.00" height="12.40" rx="6.20" fill="#717171" filter="url(#b4)"/>
<rect x="556.50" y="639.80" width="35.00" height="5.40" rx="2.16" ry="2.16" fill="#1a1a1a" filter="url(#b15)"/>
</g>
<rect x="552.50" y="624.20" width="42.10" height="33.60" rx="0.8" fill="none" stroke="#1a1a1a" stroke-width="1.7"/>
<g clip-path="url(#c20)">
<rect x="600.70" y="624.20" width="41.80" height="33.60" fill="#f2f2f2"/>
<rect x="604.70" y="628.20" width="33.80" height="25.60" fill="#fdfdfd" filter="url(#b4)"/>
<rect x="601.00" y="637.00" width="40.70" height="12.50" rx="6.25" fill="#646464" filter="url(#b4)"/>
<rect x="604.50" y="640.50" width="33.70" height="5.50" rx="2.20" ry="2.20" fill="#000" filter="url(#b15)"/>
</g>
<rect x="600.70" y="624.20" width="41.80" height="33.60" rx="0.8" fill="none" stroke="#1a1a1a" stroke-width="1.7"/>
<line x1="646.30" y1="594.10" x2="661.10" y2="594.10" stroke="#111" stroke-width="2.1"/>
<text transform="translate(665.43,599.66) scale(1.003,1)" font-size="14.23" fill="#000000">18</text>
<line x1="647.00" y1="607.50" x2="662.20" y2="607.50" stroke="#111" stroke-width="2.1"/>
<text transform="translate(665.43,613.36) scale(1.003,1)" font-size="14.23" fill="#000000">16</text>
<line x1="646.30" y1="642.60" x2="661.10" y2="642.60" stroke="#111" stroke-width="2.1"/>
<text transform="translate(665.52,647.36) scale(0.998,1)" font-size="14.23" fill="#000000">43</text>
<text transform="translate(466.14,824.73) scale(0.897,1)" font-size="16.90" fill="#000000">CTR</text>
<text transform="translate(509.32,824.73) scale(0.927,1)" font-size="16.90" fill="#000000">CIS</text>
<text transform="translate(555.64,823.80) scale(1.042,1)" font-size="15.07" fill="#000000">HEX</text>
<text transform="translate(595.77,823.85) scale(1.014,1)" font-size="15.14" fill="#000000">JMV</text>
<text transform="translate(420.82,851.60) scale(0.997,1)" font-size="15.14" fill="#000000">p62</text>
<text transform="translate(405.31,888.40) scale(1.067,1)" font-size="14.62" fill="#000000">β-actin</text>
<g clip-path="url(#c21)">
<rect x="460.80" y="831.70" width="84.70" height="34.30" fill="#dedede"/>
<rect x="464.80" y="835.70" width="76.70" height="26.30" fill="#f8f8f8" filter="url(#b4)"/>
<rect x="463.50" y="839.50" width="37.00" height="14.50" rx="7.25" fill="#757575" filter="url(#b4)"/>
<rect x="501.00" y="842.00" width="43.50" height="16.70" rx="8.35" fill="#646464" filter="url(#b4)"/>
<rect x="467.00" y="843.00" width="30.00" height="7.50" rx="3.00" ry="3.00" fill="#222" filter="url(#b15)"/>
<rect x="504.50" y="845.50" width="36.50" height="9.70" rx="3.40" ry="3.40" fill="#000" filter="url(#b1)"/>
</g>
<rect x="460.80" y="831.70" width="84.70" height="34.30" rx="0.8" fill="none" stroke="#555555" stroke-width="1.5"/>
<g clip-path="url(#c22)">
<rect x="551.10" y="831.70" width="83.90" height="34.30" fill="#dedede"/>
<rect x="555.10" y="835.70" width="75.90" height="26.30" fill="#f8f8f8" filter="url(#b4)"/>
<rect x="553.00" y="844.20" width="38.00" height="13.80" rx="6.90" fill="#868686" filter="url(#b4)"/>
<rect x="592.50" y="844.00" width="40.00" height="14.70" rx="7.35" fill="#797979" filter="url(#b4)"/>
<rect x="556.50" y="847.70" width="31.00" height="6.80" rx="2.72" ry="2.72" fill="#444" filter="url(#b15)"/>
<rect x="596.00" y="847.50" width="33.00" height="7.70" rx="3.08" ry="3.08" fill="#2a2a2a" filter="url(#b15)"/>
</g>
<rect x="551.10" y="831.70" width="83.90" height="34.30" rx="0.8" fill="none" stroke="#555555" stroke-width="1.5"/>
<g clip-path="url(#c23)">
<rect x="460.80" y="869.20" width="84.70" height="34.20" fill="#d8d8d8"/>
<rect x="464.80" y="873.20" width="76.70" height="26.20" fill="#f2f2f2" filter="url(#b4)"/>
<rect x="465.50" y="880.50" width="41.50" height="15.50" rx="7.75" fill="#ababab" filter="url(#b4)"/>
<rect x="507.00" y="881.00" width="38.00" height="15.00" rx="7.50" fill="#b0b0b0" filter="url(#b4)"/>
<rect x="469.00" y="884.00" width="34.50" height="8.50" rx="3.40" ry="3.40" fill="#8e8e8e" filter="url(#b2)"/>
<rect x="510.50" y="884.50" width="31.00" height="8.00" rx="3.20" ry="3.20" fill="#999" filter="url(#b2)"/>
</g>
<rect x="460.80" y="869.20" width="84.70" height="34.20" rx="0.8" fill="none" stroke="#555555" stroke-width="1.5"/>
<g clip-path="url(#c24)">
<rect x="551.10" y="869.20" width="83.90" height="34.20" fill="#d8d8d8"/>
<rect x="555.10" y="873.20" width="75.90" height="26.20" fill="#f2f2f2" filter="url(#b4)"/>
<rect x="555.50" y="882.90" width="37.00" height="15.20" rx="7.60" fill="#b0b0b0" filter="url(#b4)"/>
<rect x="593.50" y="882.20" width="40.00" height="15.90" rx="7.95" fill="#a6a6a6" filter="url(#b4)"/>
<rect x="559.00" y="886.40" width="30.00" height="8.20" rx="3.28" ry="3.28" fill="#999" filter="url(#b2)"/>
<rect x="597.00" y="885.70" width="33.00" height="8.90" rx="3.56" ry="3.56" fill="#858585" filter="url(#b2)"/>
</g>
<rect x="551.10" y="869.20" width="83.90" height="34.20" rx="0.8" fill="none" stroke="#555555" stroke-width="1.5"/>
<line x1="637.90" y1="836.80" x2="653.00" y2="836.80" stroke="#111" stroke-width="2.1"/>
<text transform="translate(656.18,841.90) scale(0.920,1)" font-size="15.71" fill="#000000">72</text>
<line x1="637.90" y1="875.00" x2="653.00" y2="875.00" stroke="#111" stroke-width="2.1"/>
<text transform="translate(656.01,879.45) scale(0.998,1)" font-size="14.51" fill="#000000">43</text>
</svg>
</body></html>
